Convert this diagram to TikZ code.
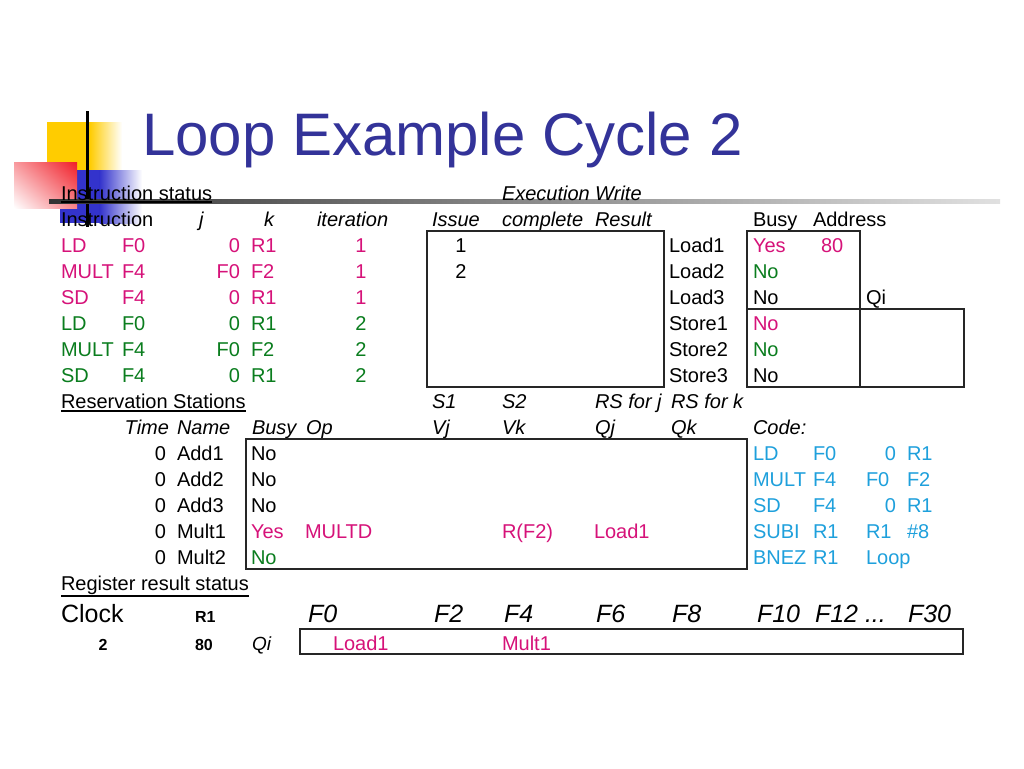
\documentclass[tikz,border=0pt]{standalone}
\usepackage{fontspec}
\setmainfont{Liberation Sans}
\usetikzlibrary{shadings}
\definecolor{pk}{RGB}{214,18,121}
\definecolor{gr}{RGB}{10,125,30}
\definecolor{cy}{RGB}{30,160,220}
\definecolor{ttl}{RGB}{51,51,153}
\definecolor{ylw}{RGB}{255,204,0}
\definecolor{blu}{RGB}{51,51,204}
\definecolor{rd}{RGB}{240,30,40}
\begin{document}
\begin{tikzpicture}[x=1pt,y=-1pt,
  t/.style={inner sep=0pt, outer sep=0pt, anchor=base west, font=\fontsize{20}{24}\selectfont},
  tr/.style={t, anchor=base east},
  tc/.style={t, anchor=base},
  it/.style={font=\fontsize{20}{24}\selectfont\itshape},
  frame/.style={draw=black!85, line width=1.1pt},
  big/.style={font=\fontsize{25}{30}\selectfont},
  bigit/.style={font=\fontsize{25}{30}\selectfont\itshape},
  bld/.style={font=\fontsize{16}{19}\selectfont\bfseries},
  uline/.style={line width=1.3pt}
]
\useasboundingbox[fill=white] (0,0) rectangle (1024,768);

% logo
\fill[ylw] (47,122) rectangle (90,170);
\shade[left color=ylw, right color=white] (89.5,122) rectangle (122,170);
\fill[blu] (60,170) rectangle (100,223);
\shade[left color=blu, right color=white] (99.5,170) rectangle (142,223);
\shade[upper right=rd, upper left=rd!45, lower right=rd!55, lower left=white] (14,162) rectangle (77,208);
\draw[line width=3pt] (87,111) -- (87,227);
\shade[left color=black!80, right color=black!12] (49,199) rectangle (1000,203);

% title
\node[inner sep=0pt, anchor=base west, text=ttl, font=\fontsize{60}{72}\selectfont] (title) at (142,155.5) {Loop Example Cycle 2};

% instruction status
\node[t] (hIS) at (61,200.5) {Instruction status};
\draw[uline] (hIS.base west) ++(0,1.5) coordinate (uIS) -- (uIS -| hIS.base east);
\node[t,it] (hEx) at (502,200.5) {Execution};
\node[t,it] (hWr) at (595,200.5) {Write};

\node[t] (hIn) at (61,226.5) {Instruction};
\node[t,it] (hj) at (199,226.5) {j};
\node[tr,it] (hk) at (274,226.5) {k};
\node[t,it] (hit) at (317,226.5) {iteration};
\node[t,it] (hiss) at (432,226.5) {Issue};
\node[t,it] (hcomp) at (502,226.5) {complete};
\node[t,it] (hres) at (595,226.5) {Result};
\node[t] (hbusy) at (753,226.5) {Busy};
\node[t] (haddr) at (813,226.5) {Address};

\foreach \n/\vo/\vd/\vj/\vk/\vi/\vc in {2/LD/F0/0/R1/1/pk, 3/MULT/F4/F0/F2/1/pk, 4/SD/F4/0/R1/1/pk,
    5/LD/F0/0/R1/2/gr, 6/MULT/F4/F0/F2/2/gr, 7/SD/F4/0/R1/2/gr} {
  \pgfmathsetmacro\yy{200.5+26*\n}
  \node[t,text=\vc] (op\n) at (61,\yy) {\vo};
  \node[t,text=\vc] (rd\n) at (122,\yy) {\vd};
  \node[tr,text=\vc] (sj\n) at (240,\yy) {\vj};
  \node[t,text=\vc] (sk\n) at (251,\yy) {\vk};
  \node[tc,text=\vc] (itr\n) at (361,\yy) {\vi};
}
\node[tc] (iss2) at (461,252.5) {1};
\node[tc] (iss3) at (461,278.5) {2};
\draw[frame] (427,231) rectangle (664,387);

% load / store buffers
\foreach \n/\nm/\vb/\vc in {2/Load1/Yes/pk, 3/Load2/No/gr, 4/Load3/No/black,
    5/Store1/No/pk, 6/Store2/No/gr, 7/Store3/No/black} {
  \pgfmathsetmacro\yy{200.5+26*\n}
  \node[t] (buf\n) at (669,\yy) {\nm};
  \node[t,text=\vc] (bb\n) at (753,\yy) {\vb};
}
\node[t,text=pk] (addr2) at (821,252.5) {80};
\node[t] (qi4) at (866,304.5) {Qi};
\draw[frame] (747,231) rectangle (860,387);
\draw[frame] (747,309) -- (964,309) -- (964,387) -- (747,387);

% reservation stations
\node[t] (hRS) at (61,408.5) {Reservation Stations};
\draw[uline] (hRS.base west) ++(0,2.5) coordinate (uRS) -- (uRS -| hRS.base east);
\node[t,it] (hS1) at (432,408.5) {S1};
\node[t,it] (hS2) at (502,408.5) {S2};
\node[t,it] (hRSj) at (595,408.5) {RS for j};
\node[t,it] (hRSk) at (671,408.5) {RS for k};

\node[tr,it] (hTime) at (169,434.5) {Time};
\node[t,it] (hName) at (177,434.5) {Name};
\node[t,it] (hBusy) at (252,434.5) {Busy};
\node[t,it] (hOp) at (306,434.5) {Op};
\node[t,it] (hVj) at (432,434.5) {Vj};
\node[t,it] (hVk) at (502,434.5) {Vk};
\node[t,it] (hQj) at (595,434.5) {Qj};
\node[t,it] (hQk) at (671,434.5) {Qk};
\node[t,it] (hCode) at (753,434.5) {Code:};

\foreach \n/\nm/\vb/\vc in {10/Add1/No/black, 11/Add2/No/black, 12/Add3/No/black,
    13/Mult1/Yes/pk, 14/Mult2/No/gr} {
  \pgfmathsetmacro\yy{200.5+26*\n}
  \node[tr] (tm\n) at (166,\yy) {0};
  \node[t] (nm\n) at (177,\yy) {\nm};
  \node[t,text=\vc] (rb\n) at (251,\yy) {\vb};
}
\node[t,text=pk] (rsop) at (305,538.5) {MULTD};
\node[t,text=pk] (rsvk) at (502,538.5) {R(F2)};
\node[t,text=pk] (rsqj) at (594,538.5) {Load1};
\draw[frame] (246,439) rectangle (747,569);

% code
\foreach \n/\ca/\cb/\cd in {10/LD/F0/R1, 11/MULT/F4/F2, 12/SD/F4/R1, 13/SUBI/R1/\#8, 14/BNEZ/R1/{}} {
  \pgfmathsetmacro\yy{200.5+26*\n}
  \node[t,text=cy] (ca\n) at (753,\yy) {\ca};
  \node[t,text=cy] (cb\n) at (813,\yy) {\cb};
  \node[t,text=cy] (cd\n) at (907,\yy) {\cd};
}
\node[tr,text=cy] (cc10) at (896,460.5) {0};
\node[t,text=cy] (cc11) at (866,486.5) {F0};
\node[tr,text=cy] (cc12) at (896,512.5) {0};
\node[t,text=cy] (cc13) at (866,538.5) {R1};
\node[t,text=cy] (cc14) at (866,564.5) {Loop};

% register result status
\node[t] (hRR) at (61,590.5) {Register result status};
\draw[uline] (hRR.base west) ++(0,5.5) coordinate (uRR) -- (uRR -| hRR.base east);
\node[t,big] (clk) at (61,622.5) {Clock};
\node[t,bld] (r1h) at (195,622.5) {R1};
\foreach \nm/\xx in {F0/308, F2/434, F4/504, F6/596, F8/672, F10/757, F30/908} {
  \node[t,bigit] (reg\nm) at (\xx,622.5) {\nm};
}
\node[t,bigit] (regF12) at (815,622.5) {F12 ...};
\node[tc,bld] (clkv) at (103,650) {2};
\node[t,bld] (r1v) at (195,650) {80};
\node[t,font=\fontsize{19}{23}\selectfont\itshape] (qiR) at (252,650) {Qi};
\node[t,text=pk] (qF0) at (333,650) {Load1};
\node[t,text=pk] (qF4) at (502,650) {Mult1};
\draw[frame] (300,629) rectangle (963,654);
\end{tikzpicture}
\end{document}
